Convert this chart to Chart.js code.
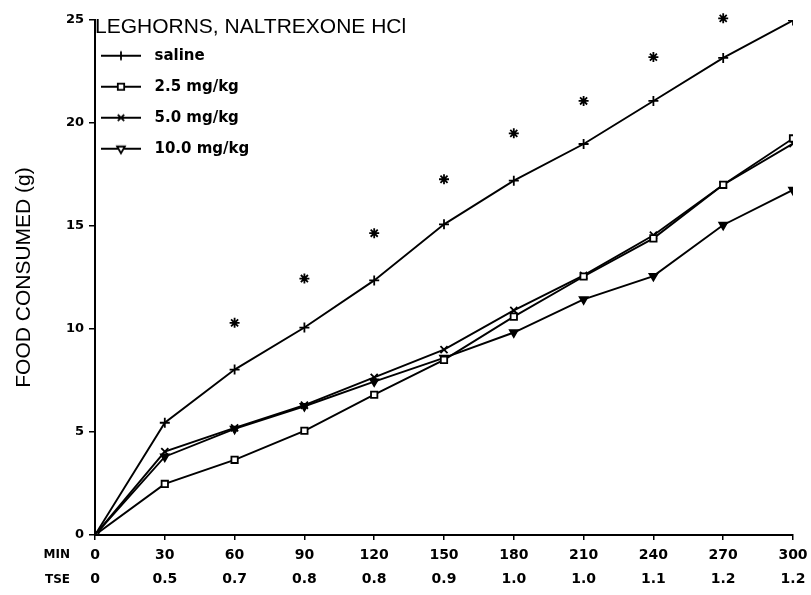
<!DOCTYPE html>
<html>
<head>
<meta charset="utf-8">
<script src="https://cdn.jsdelivr.net/npm/chart.js@4.4.1/dist/chart.umd.min.js"></script>
<style>
  html, body { margin: 0; padding: 0; background: #fff; }
  #wrap { width: 811px; height: 595px; }
</style>
</head>
<body>
<div id="wrap"><canvas id="food-chart" width="811" height="595"></canvas></div>
<script>
const minutes = [0, 30, 60, 90, 120, 150, 180, 210, 240, 270, 300]
const tse = ['0', '0.5', '0.7', '0.8', '0.8', '0.9', '1.0', '1.0', '1.1', '1.2', '1.2']

const saline = [0, 5.45, 8.03, 10.07, 12.36, 15.08, 17.2, 18.98, 21.07, 23.16, 24.98]
const dose25 = [0, 2.48, 3.65, 5.06, 6.81, 8.5, 10.6, 12.55, 14.4, 17.0, 19.25]
const dose50 = [0, 4.05, 5.2, 6.3, 7.65, 9.0, 10.9, 12.6, 14.55, 17.0, 19.0]
const dose100 = [0, 3.8, 5.15, 6.25, 7.45, 8.6, 9.83, 11.44, 12.57, 15.05, 16.75]

// significance markers above the saline curve
const starMinutes = [60, 90, 120, 150, 180, 210, 240, 270]
const starValues = [10.3, 12.45, 14.65, 17.27, 19.5, 21.07, 23.2, 25.08]

const toPoints = (xs, ys) => xs.map((x, i) => ({ x: x, y: ys[i] }))

const series = [
  { label: 'saline', data: saline, pointStyle: 'cross', rotation: 0, radius: 5, fill: '#fff' },
  { label: '2.5 mg/kg', data: dose25, pointStyle: 'rect', rotation: 0, radius: 4.5, fill: '#fff' },
  { label: '5.0 mg/kg', data: dose50, pointStyle: 'crossRot', rotation: 0, radius: 5, fill: '#fff' },
  { label: '10.0 mg/kg', data: dose100, pointStyle: 'triangle', rotation: 180, radius: 4.5, fill: '#000' },
]

// small canvas with a line and the marker on it, for the legend
// (extra transparent room on the right so the sample sits further left)
const legendIcon = function (style, rotation) {
  const c = document.createElement('canvas')
  c.width = 56
  c.height = 14
  const g = c.getContext('2d')
  g.strokeStyle = '#000'
  g.lineWidth = 1.8
  g.beginPath()
  g.moveTo(0, 7)
  g.lineTo(40, 7)
  g.stroke()
  g.fillStyle = '#fff'
  Chart.helpers.drawPoint(g, { pointStyle: style, rotation: rotation, radius: 4.5, borderWidth: 1.6 }, 20, 7)
  return c
}

const datasets = series.map(s => ({
  label: s.label,
  data: toPoints(minutes, s.data),
  borderColor: '#000',
  backgroundColor: '#fff',
  borderWidth: 1.9,
  pointStyle: s.pointStyle,
  rotation: s.rotation,
  pointRadius: s.radius,
  pointBorderWidth: 1.8,
  pointBackgroundColor: s.fill,
  pointBorderColor: '#000',
  tension: 0,
}))

datasets.push({
  label: '*',
  type: 'scatter',
  data: toPoints(starMinutes, starValues),
  showLine: false,
  pointStyle: 'star',
  pointRadius: 5,
  pointBorderWidth: 1.8,
  pointBorderColor: '#000',
  pointBackgroundColor: '#000',
  clip: false,
})

// "MIN" / "TSE" row labels left of the x tick labels
const rowLabels = {
  id: 'rowLabels',
  afterDraw(chart) {
    const x = chart.scales.x
    const ctx = chart.ctx
    ctx.save()
    ctx.fillStyle = '#000'
    ctx.font = 'bold 12px "DejaVu Sans"'
    ctx.textAlign = 'right'
    ctx.textBaseline = 'middle'
    ctx.fillText('MIN', x.left - 25, x.top + 20)
    ctx.fillText('TSE', x.left - 25, x.top + 45)
    ctx.restore()
  }
}

const ctx = document.getElementById('food-chart')

const foodChart = new Chart(ctx, {
  type: 'line',
  data: { datasets: datasets },
  plugins: [rowLabels],
  options: {
    responsive: false,
    animation: false,
    layout: { padding: { left: 0, right: 18, top: 20, bottom: 0 } },
    scales: {
      x: {
        type: 'linear',
        min: 0,
        max: 300,
        afterFit: scale => { scale.height = 60 },
        border: { display: true, color: '#000', width: 2 },
        grid: { drawOnChartArea: false, drawTicks: true, tickLength: 5, color: '#000', lineWidth: 1.5 },
        ticks: {
          stepSize: 30,
          padding: 3,
          color: '#000',
          maxRotation: 0,
          font: { family: 'DejaVu Sans', weight: 'bold', size: 14, lineHeight: 1.75 },
          callback: v => [String(v), tse[minutes.indexOf(v)]]
        }
      },
      y: {
        min: 0,
        max: 25,
        afterFit: scale => { scale.width = 95 },
        border: { display: true, color: '#000', width: 2 },
        grid: { drawOnChartArea: false, drawTicks: true, tickLength: 6, color: '#000', lineWidth: 1.5 },
        title: {
          display: true,
          text: 'FOOD CONSUMED (g)',
          color: '#000',
          font: { family: 'Liberation Sans', size: 21 },
          padding: { top: 12, bottom: 4 }
        },
        ticks: {
          stepSize: 5,
          padding: 5,
          color: '#000',
          font: { family: 'DejaVu Sans', weight: 'bold', size: 13 }
        }
      }
    },
    plugins: {
      legend: {
        position: 'chartArea',
        align: 'start',
        title: {
          display: true,
          text: 'LEGHORNS, NALTREXONE HCl',
          color: '#000',
          position: 'start',
          font: { family: 'Liberation Sans', size: 21 },
          padding: { top: 17, bottom: -10 }
        },
        labels: {
          usePointStyle: true,
          pointStyleWidth: 36,
          color: '#000',
          padding: 16,
          font: { family: 'DejaVu Sans', weight: 'bold', size: 15 },
          filter: item => item.text !== '*',
          generateLabels: chart => {
            const items = Chart.defaults.plugins.legend.labels.generateLabels(chart)
            items.forEach(item => {
              const s = series[item.datasetIndex]
              if (s) {
                item.pointStyle = legendIcon(s.pointStyle, s.rotation)
                item.rotation = 0
              }
            })
            return items
          }
        }
      },
      title: { display: false },
      tooltip: { enabled: false }
    }
  }
})
</script>
</body>
</html>
